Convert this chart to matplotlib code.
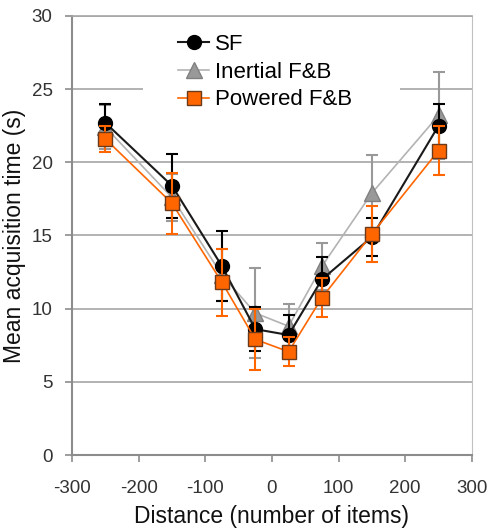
"""Mean acquisition time vs distance, three scrolling techniques"""

import numpy as np
import matplotlib.pyplot as plt
from matplotlib.lines import Line2D
from matplotlib.patches import Rectangle

plt.rcParams['font.family'] = ['Liberation Sans', 'DejaVu Sans']
plt.rcParams['axes.unicode_minus'] = False

distance = [-250, -150, -75, -25, 25, 75, 150, 250]

sf = [22.7, 18.4, 12.9, 8.6, 8.2, 12.0, 14.9, 22.5]
sf_err = [1.3, 2.2, 2.4, 1.5, 1.4, 1.5, 1.3, 1.5]

inertial = [22.4, 17.6, 12.3, 9.7, 8.8, 12.9, 17.9, 23.2]
inertial_err = [1.5, 1.6, 1.8, 3.1, 1.5, 1.6, 2.6, 3.0]

powered = [21.6, 17.2, 11.8, 7.9, 7.06, 10.75, 15.1, 20.8]
powered_err = [0.9, 2.1, 2.3, 2.1, 1.0, 1.35, 1.9, 1.7]

labels = ['SF', 'Inertial F&B', 'Powered F&B']

fig = plt.figure(figsize=(4.9, 5.32), dpi=100)
ax = fig.add_axes([0.147, 0.1447, 0.816, 0.8253])

#%% series: gray first, then black, orange on top
st_in = dict(color='#b3b3b3', lw=1.2, marker='^', ms=11, mfc='#999999', mec='#808080')
st_sf = dict(color='#1a1a1a', lw=1.5, marker='o', ms=10, mfc='black', mec='black')
st_pw = dict(color='#ff6600', lw=1.2, marker='s', ms=10, mfc='#ff6600', mec='#6b3a1a')

ax.errorbar(distance, inertial, yerr=inertial_err, ecolor='#999999',
            elinewidth=1.5, capsize=4, capthick=1.5, zorder=3, **st_in)
ax.errorbar(distance, sf, yerr=sf_err, ecolor='black',
            elinewidth=1.5, capsize=4, capthick=1.5, zorder=4, **st_sf)
ax.errorbar(distance, powered, yerr=powered_err, ecolor='#ff6600',
            elinewidth=1.5, capsize=4, capthick=1.5, zorder=5, **st_pw)

ax.set_xlim(-300, 300)
ax.set_ylim(0, 30)
ax.set_xticks(np.arange(-300, 301, 100))
ax.set_yticks(np.arange(0, 31, 5))
ax.yaxis.grid(True, color='#a6a6a6', lw=1.2)
ax.set_axisbelow(True)

ax.spines['top'].set_color('#a6a6a6')
ax.spines['top'].set_linewidth(1.2)
ax.spines['right'].set_color('#c0c0c0')
ax.spines['left'].set_color('#8c8c8c')
ax.spines['bottom'].set_color('#8c8c8c')
ax.spines['left'].set_linewidth(1.5)
ax.spines['bottom'].set_linewidth(1.5)
ax.tick_params(axis='both', colors='#8c8c8c', labelcolor='#333333',
               labelsize=13.5, length=5, width=1.2, direction='out')
ax.tick_params(axis='x', pad=13)
ax.tick_params(axis='y', pad=9)

ax.set_xlabel('Distance (number of items)', fontsize=16.5, color='#111111', labelpad=6)
ax.set_ylabel('Mean acquisition time (s)', fontsize=16.5, color='#111111', labelpad=4)

# white legend box hiding the grid behind it
ax.add_patch(Rectangle((0.1775, 0.781), 0.6425, 0.205, transform=ax.transAxes,
                       facecolor='white', edgecolor='none', zorder=1))

handles = [Line2D([], [], **st_sf), Line2D([], [], **st_in), Line2D([], [], **st_pw)]
leg = ax.legend(handles, labels, loc='upper left', bbox_to_anchor=(0.265, 0.959),
                frameon=False, fontsize=16, handlelength=1.4, handletextpad=0.25,
                labelspacing=0.3, borderpad=0, borderaxespad=0)

plt.savefig('out.png', dpi=100)
